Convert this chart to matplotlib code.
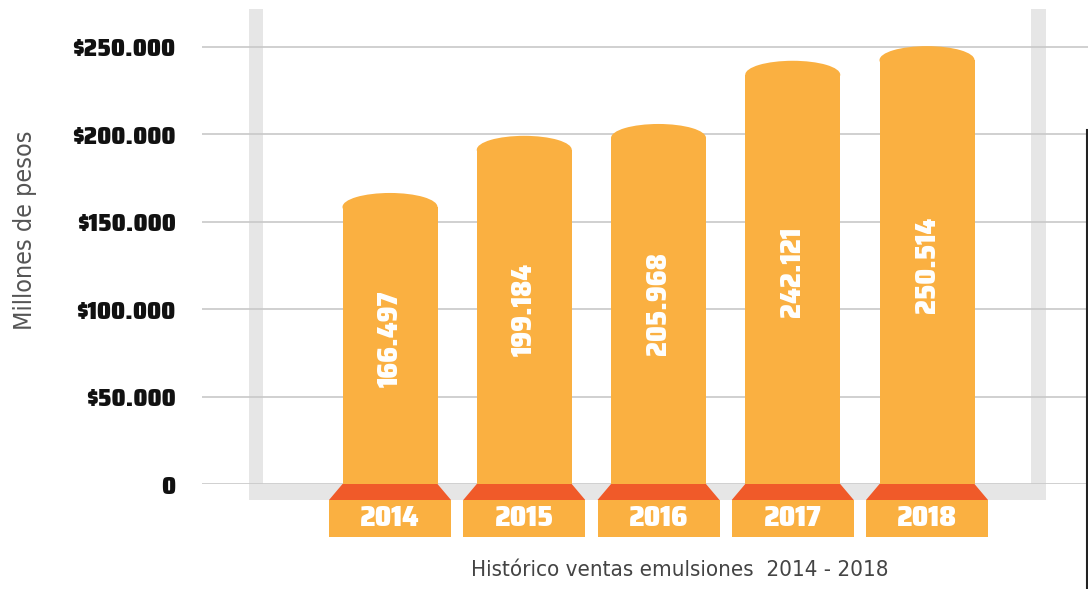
import matplotlib
matplotlib.use("Agg")
import matplotlib.pyplot as plt
from matplotlib.patches import Rectangle, Ellipse, Polygon
from matplotlib.lines import Line2D
from matplotlib import font_manager
from matplotlib.font_manager import FontProperties

years = ["2014", "2015", "2016", "2017", "2018"]
ventas = [166497, 199184, 205968, 242121, 250514]
value_labels = ["166.497", "199.184", "205.968", "242.121", "250.514"]
yticks = [0, 50000, 100000, 150000, 200000, 250000]
ytick_labels = ["0", "$50.000", "$100.000", "$150.000", "$200.000", "$250.000"]

ORANGE = "#FAB041"
RED = "#F05A29"
GREY = "#E6E6E6"
GRID = "#C8C8C8"


def is_condensed(f):
    s = f.stretch
    n = (f.name + " " + f.fname).lower()
    if "narrow" in n or "condensed" in n:
        return True
    if isinstance(s, str):
        return "condensed" in s
    return s < 500


def weight_num(w):
    if isinstance(w, int):
        return w
    return {"bold": 700, "normal": 400, "regular": 400, "light": 300, "medium": 500,
            "semibold": 600, "heavy": 800, "black": 900}.get(str(w).lower(), 400)


cond = [f for f in font_manager.fontManager.ttflist if is_condensed(f) and f.style == "normal"]
bolds = sorted([f for f in cond if weight_num(f.weight) >= 700], key=lambda f: weight_num(f.weight))
regs = sorted([f for f in cond if weight_num(f.weight) <= 400], key=lambda f: -weight_num(f.weight))

if bolds:
    def BOLD(size):
        return FontProperties(fname=bolds[-1].fname, size=size)
else:
    def BOLD(size):
        return FontProperties(family="DejaVu Sans", weight="bold", stretch="condensed", size=size)
if regs:
    def REG(size):
        return FontProperties(fname=regs[0].fname, size=size)
else:
    def REG(size):
        return FontProperties(family="DejaVu Sans", stretch="condensed", size=size)

W, H = 1088, 589
fig = plt.figure(figsize=(W / 100, H / 100), dpi=100)

px_per_unit = 437 / 250000
ytop = (484 - 9) / px_per_unit
ax = fig.add_axes([202 / W, (H - 484) / H, 1 - 202 / W, (484 - 9) / H])
step = 134.25
x0 = 390
ax.set_xlim((202 - x0) / step, (1088 - x0) / step)
ax.set_ylim(0, ytop)


def px2y(dpx):
    return dpx / px_per_unit


# grey frame
fl, fr = (249 - x0) / step, (263 - x0) / step
rl, rr = (1031 - x0) / step, (1046 - x0) / step
fb = -px2y(16)
ax.add_patch(Rectangle((fl, fb), fr - fl, ytop - fb, color=GREY, lw=0, zorder=0, clip_on=False))
ax.add_patch(Rectangle((rl, fb), rr - rl, ytop - fb, color=GREY, lw=0, zorder=0, clip_on=False))
ax.add_patch(Rectangle((fl, fb), rr - fl, -fb, color=GREY, lw=0, zorder=0, clip_on=False))

for t in yticks:
    ax.axhline(t, color=GRID, lw=1.2, zorder=1)

bw = 95 / step
boxw = 122 / step
cap = px2y(14)
box_top = fb
box_bot = -px2y(53)
for i, (v, lab, yr) in enumerate(zip(ventas, value_labels, years)):
    ax.add_patch(Rectangle((i - bw / 2, 0), bw, v - cap, color=ORANGE, lw=0, zorder=3))
    ax.add_patch(Ellipse((i, v - cap), bw, 2 * cap, color=ORANGE, lw=0, zorder=3))
    ax.add_patch(Polygon([(i - bw / 2, 0), (i + bw / 2, 0), (i + boxw / 2, box_top), (i - boxw / 2, box_top)],
                         closed=True, color=RED, lw=0, zorder=4, clip_on=False))
    ax.add_patch(Rectangle((i - boxw / 2, box_bot), boxw, box_top - box_bot, color=ORANGE, lw=0,
                           zorder=4, clip_on=False))
    ax.text(i, (box_top + box_bot) / 2, yr, color="white", fontproperties=BOLD(21),
            ha="center", va="center", zorder=5, clip_on=False)
    ax.text(i, v / 2, lab, color="white", fontproperties=BOLD(20),
            rotation=90, ha="center", va="center", zorder=5)

ax.set_yticks(yticks)
ax.set_yticklabels(ytick_labels, color="#111111")
for tl in ax.get_yticklabels():
    tl.set_fontproperties(BOLD(18))
ax.tick_params(axis="y", length=0, pad=19)
ax.set_xticks([])
for s in ax.spines.values():
    s.set_visible(False)
ax.patch.set_visible(False)

fig.text(25 / W, 1 - 230 / H, "Millones de pesos", rotation=90, ha="center", va="center",
         fontproperties=REG(18), color="#555555")
fig.text(680 / W, 1 - 570 / H, "Histórico ventas emulsiones  2014 - 2018", ha="center", va="center",
         fontproperties=REG(16), color="#444444")

fig.add_artist(Line2D([1086.5 / W, 1086.5 / W], [0, 1 - 130 / H], color="#222222", lw=1.5,
                      transform=fig.transFigure))

fig.savefig("out.png", dpi=100)
